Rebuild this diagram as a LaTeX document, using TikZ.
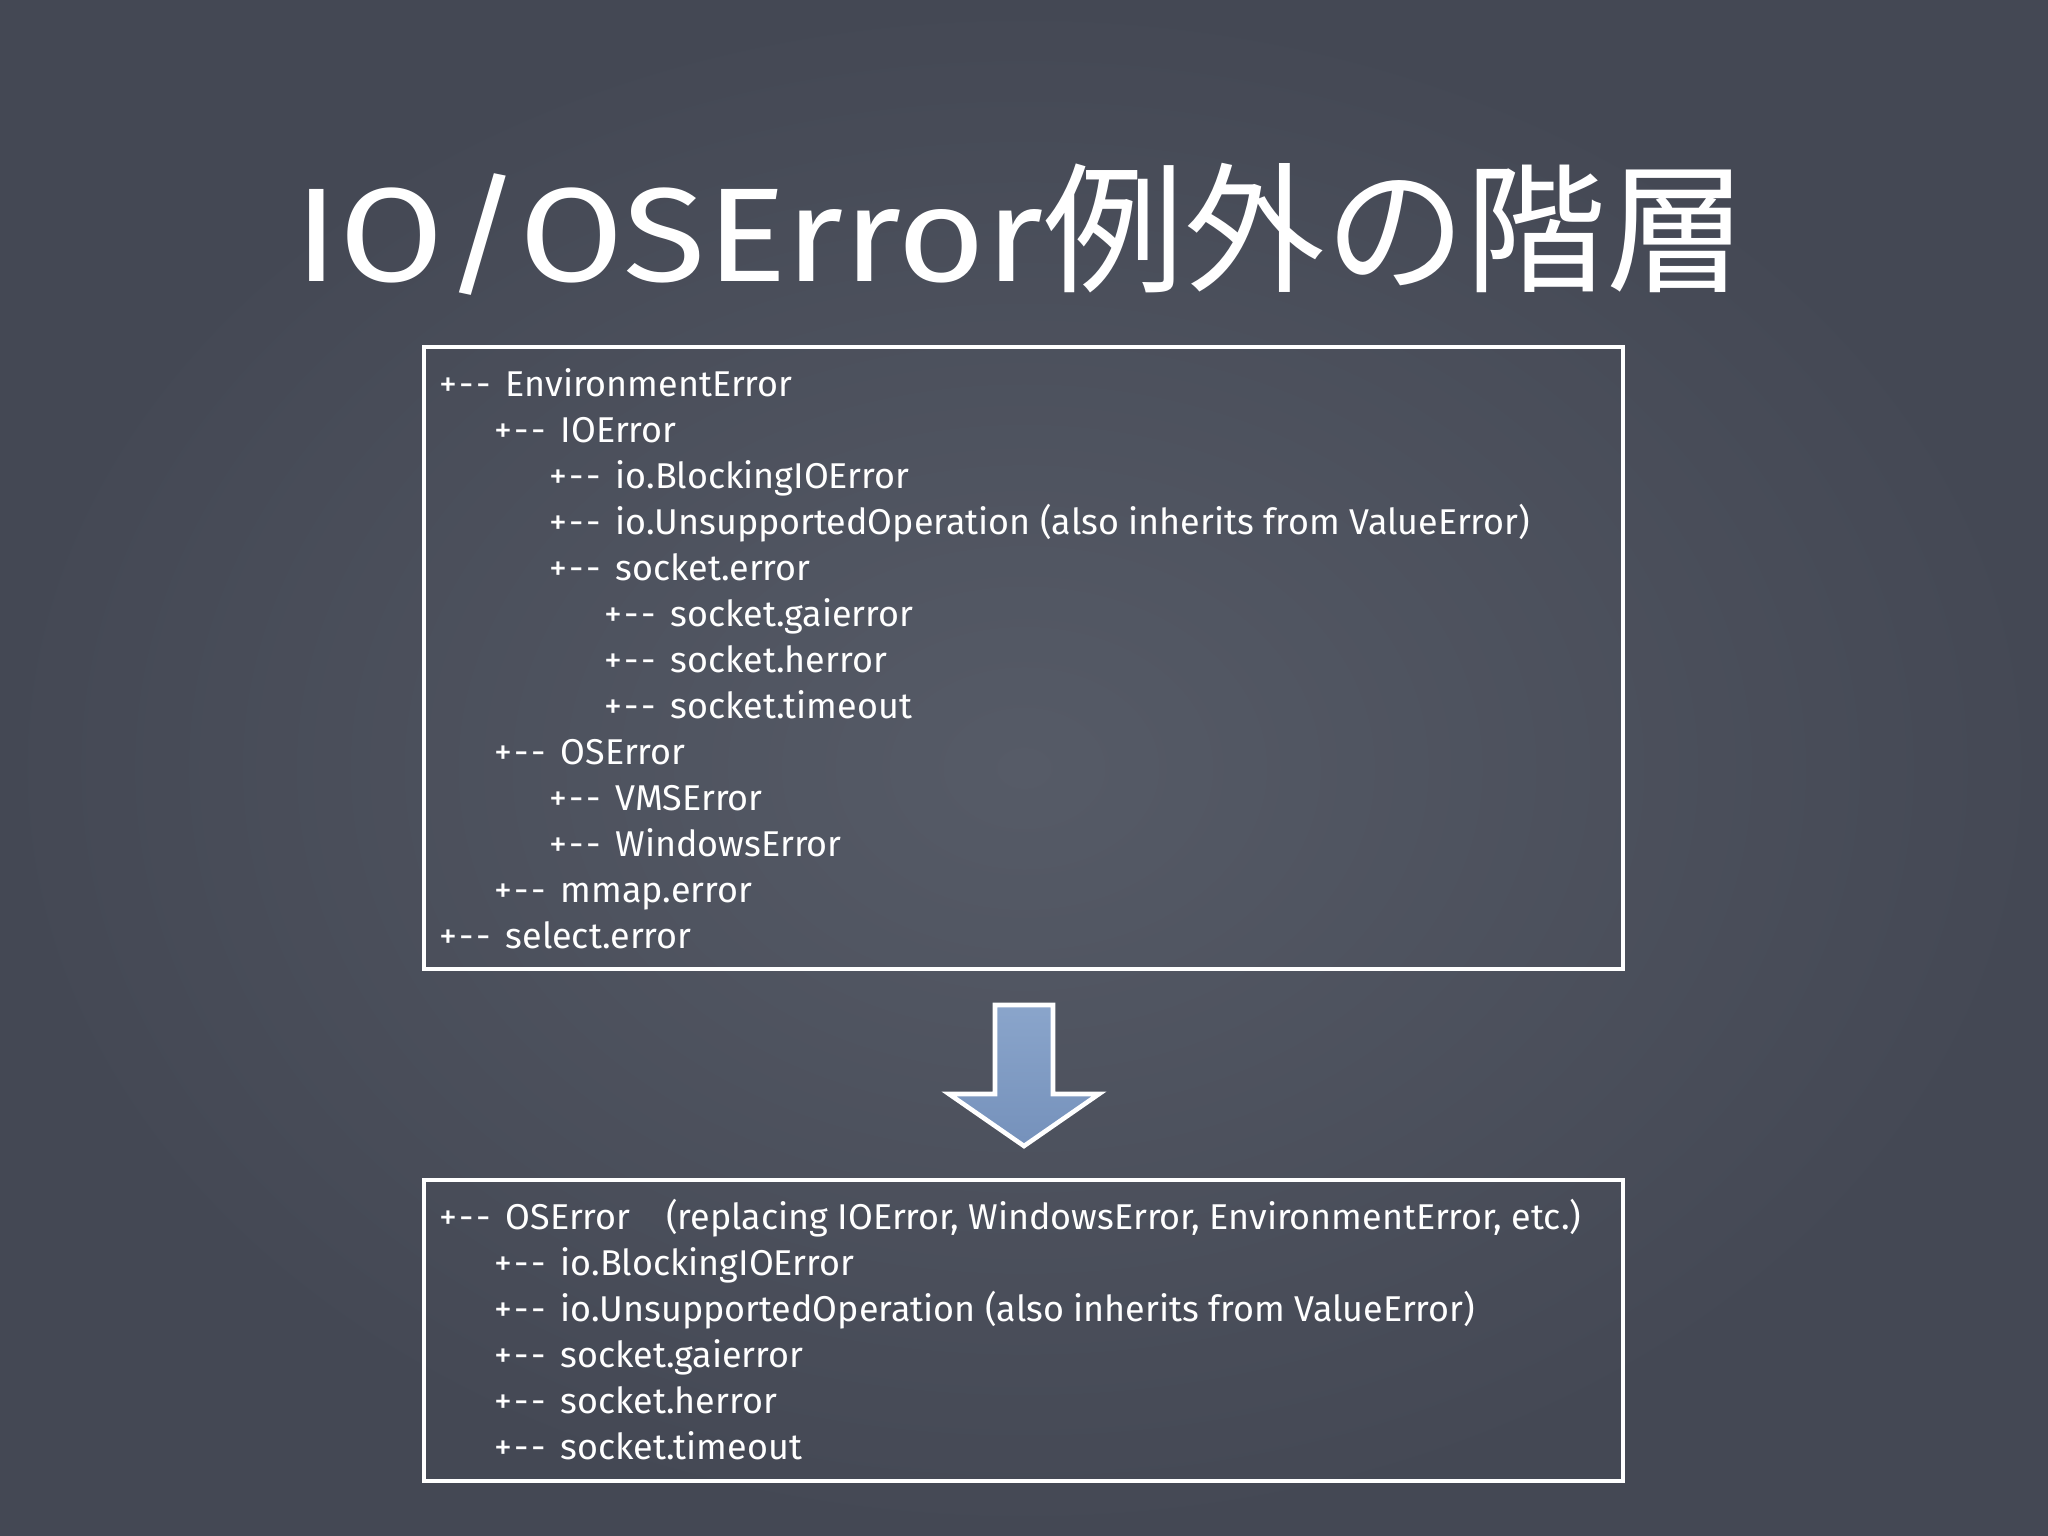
\documentclass[tikz,border=0pt]{standalone}
\usepackage{fontspec}
\setmainfont{Fira Sans}
\newfontfamily\titlefont{Fira Sans}[FakeStretch=1.13]
\newfontfamily\jpfont{Noto Sans CJK JP}
\usepackage{tikz}
\definecolor{text}{HTML}{FFFFFF}
\definecolor{boardin}{HTML}{565B67}
\definecolor{boardout}{HTML}{444854}
\definecolor{arrowtop}{HTML}{8AA5CB}
\definecolor{arrowbot}{HTML}{7591BB}
\newcommand{\branch}{+\kern0.6pt-\kern0.6pt-\hspace{0.42em}}
\tikzset{
  frame/.style={draw=text, line width=1.4pt},
  codeline/.style={text=text, anchor=base west, inner sep=0pt, font=\fontsize{10.2}{12}\selectfont},
  titletxt/.style={text=text, font=\fontsize{38}{44}\selectfont},
  downarrow/.style={draw=text, line width=1.3pt, top color=arrowtop, bottom color=arrowbot, line join=miter},
  every node/.style={text=text}
}
\begin{document}
\begin{tikzpicture}[x=0.01cm,y=-0.01cm]
  \useasboundingbox (0,0) rectangle (2048,1536);
  \fill[inner color=boardin, outer color=boardout] (0,0) rectangle (2048,1536);

  \node[titletxt] (title) at (1021,229) {{\titlefont IO/OSError}{\jpfont\fontsize{40}{44}\selectfont 例外の階層}};

  % old hierarchy
  \draw[frame] (424,347) rectangle (1623,969);
  \foreach \lvl/\name [count=\i] in {0/EnvironmentError, 1/IOError, 2/io.BlockingIOError,
      2/io.UnsupportedOperation (also inherits from ValueError), 2/socket.error,
      3/socket.gaierror, 3/socket.herror, 3/socket.timeout, 1/OSError, 2/VMSError,
      2/WindowsError, 1/mmap.error, 0/select.error}
    \node[codeline] (old\i) at ({439+55*\lvl},{396+46*(\i-1)}) {\branch\name};

  % arrow
  \draw[downarrow] (995,1005) -- (1053,1005) -- (1053,1094) -- (1099,1094)
    -- (1024,1146) -- (949,1094) -- (995,1094) -- cycle;

  % new hierarchy
  \draw[frame] (424,1180) rectangle (1623,1481);
  \foreach \lvl/\name [count=\i] in {0/{OSError\hspace{1.9ex}(replacing IOError, WindowsError, EnvironmentError, etc.)},
      1/io.BlockingIOError, 1/io.UnsupportedOperation (also inherits from ValueError),
      1/socket.gaierror, 1/socket.herror, 1/socket.timeout}
    \node[codeline] (new\i) at ({439+55*\lvl},{1229+46*(\i-1)}) {\branch\name};
\end{tikzpicture}
\end{document}
